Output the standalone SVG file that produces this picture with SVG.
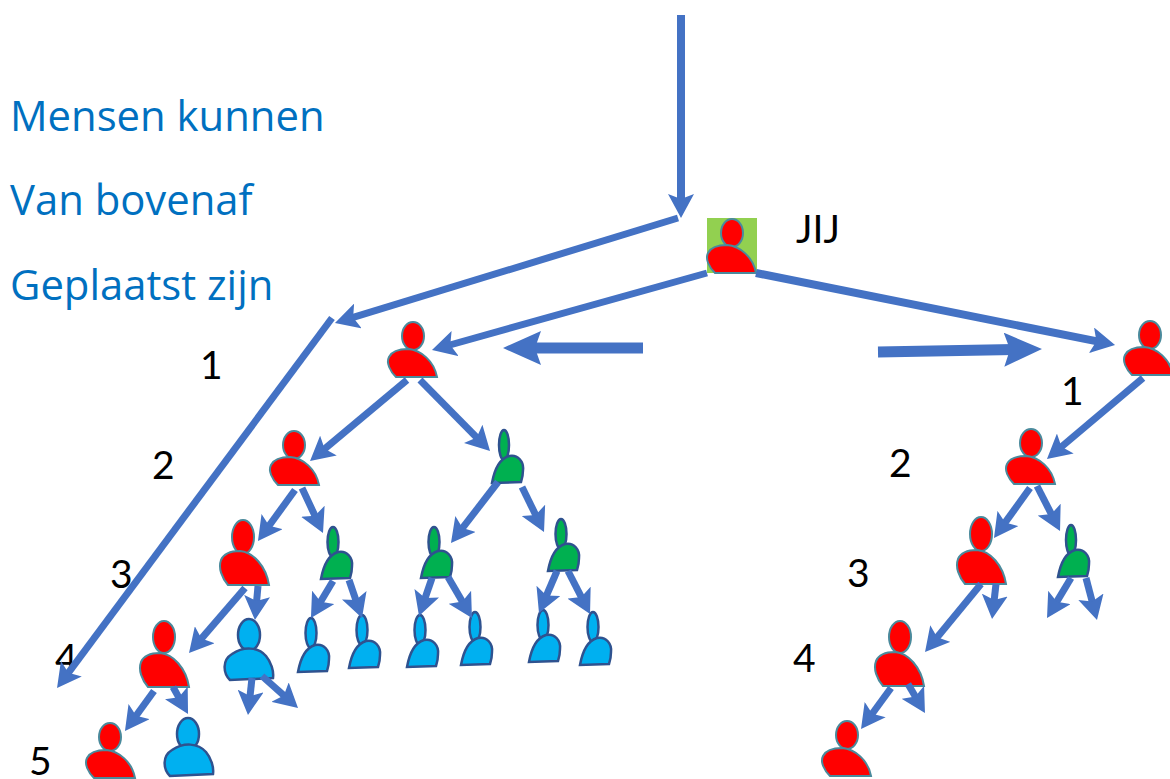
<svg xmlns="http://www.w3.org/2000/svg" xmlns:xlink="http://www.w3.org/1999/xlink" width="1170" height="779" viewBox="0 0 1170 779">
<style>
.r{fill:#f00;stroke:#4a8a9c;stroke-width:2}
.g{fill:#00b050;stroke:#2f528f;stroke-width:2.5}
.b{fill:#00b0f0;stroke:#2f528f;stroke-width:2.5}
.c line{stroke:#4472c4;stroke-width:7;fill:none}
.t{font-family:"Open Sans","Noto Sans",sans-serif;font-size:41.8px;fill:#0070c0}
.n{font-family:Lato,"Open Sans",sans-serif;font-size:39px;fill:#000}
</style>
<defs>
<path id="wide" d="M8,28C2,22-2,14 1,8C4,2 12,0 20,0C33,1 46,12 49,28Z"/>
<path id="tall" d="M8,34C2,27-2,17 1,9C4,2 12,0 20,0C33,1 46,15 49,34Z"/>
<path id="round" d="M6,32C-1,25-2,12 8,6C20,-2 34,-1 42,8C47,14 50,23 49,30Z"/>
<path id="nar" d="M0,28C2,17 7,4 17,1C26,-1 32,7 31,15C31,20 30,24 29,27Z"/>
<marker id="m" markerUnits="userSpaceOnUse" viewBox="0 -13 24 26" refX="11" refY="0" markerWidth="24" markerHeight="26" orient="auto"><path d="M0,-13L24,0L0,13L5,0Z" fill="#4472c4"/></marker>
<marker id="k" markerUnits="userSpaceOnUse" viewBox="0 -17 38 34" refX="10" refY="0" markerWidth="38" markerHeight="34" orient="auto"><path d="M0,-17L38,0L0,17L6,0Z" fill="#4472c4"/></marker>
</defs>

<text class="t" x="10" y="131">Mensen kunnen</text>
<text class="t" x="10" y="215">Van bovenaf</text>
<text class="t" x="10" y="300">Geplaatst zijn</text>
<text class="n" x="796" y="243">JIJ</text>
<text class="n" x="200" y="379">1</text>
<text class="n" x="152" y="479">2</text>
<text class="n" x="110" y="588">3</text>
<text class="n" x="55" y="672">4</text>
<text class="n" x="29" y="775">5</text>
<text class="n" x="1061" y="405">1</text>
<text class="n" x="889" y="477">2</text>
<text class="n" x="847" y="587">3</text>
<text class="n" x="793" y="672">4</text>

<g id="jij"><rect x="707" y="218" width="50" height="55" fill="#92d050"/><g class="r"><ellipse cx="732" cy="233" rx="11" ry="14"/><use href="#wide" transform="translate(707,245)"/></g></g>
<g id="p1" class="r"><ellipse cx="413" cy="336" rx="11" ry="14"/><use href="#wide" transform="translate(388,349)"/></g>
<g id="p2" class="r"><ellipse cx="294" cy="445" rx="11" ry="14"/><use href="#wide" transform="translate(270,457)"/></g>
<g id="p3" class="r"><ellipse cx="243" cy="537" rx="11" ry="17"/><use href="#tall" transform="translate(220,551)"/></g>
<g id="p4" class="r"><ellipse cx="164" cy="637" rx="11" ry="16"/><use href="#tall" transform="translate(140,653)"/></g>
<g id="p5" class="r"><ellipse cx="110" cy="737" rx="11" ry="14"/><use href="#wide" transform="translate(86,750)"/></g>
<g id="q0" class="r"><ellipse cx="1150" cy="335" rx="11" ry="14"/><use href="#wide" transform="translate(1124,347)"/></g>
<g id="q1" class="r"><ellipse cx="1031" cy="443" rx="11" ry="14"/><use href="#wide" transform="translate(1006,456)"/></g>
<g id="q2" class="r"><ellipse cx="981" cy="534" rx="11" ry="17"/><use href="#tall" transform="translate(957,550)"/></g>
<g id="q3" class="r"><ellipse cx="900" cy="637" rx="11" ry="16"/><use href="#tall" transform="translate(875,652)"/></g>
<g id="q4" class="r"><ellipse cx="847" cy="735" rx="11" ry="14"/><use href="#wide" transform="translate(822,748)"/></g>

<g id="u1" class="b"><ellipse cx="249" cy="635" rx="11" ry="16"/><use href="#round" transform="translate(224,648)"/></g>
<g id="u2" class="b"><ellipse cx="188" cy="734" rx="11" ry="16"/><use href="#round" transform="translate(164,744)"/></g>

<g id="g1" class="g"><ellipse cx="504" cy="445" rx="5" ry="15"/><use href="#nar" transform="translate(492,455)"/></g>
<g id="g2" class="g"><ellipse cx="333" cy="542" rx="5.5" ry="15"/><use href="#nar" transform="translate(321,551)"/></g>
<g id="g3" class="g"><ellipse cx="434" cy="542" rx="5.5" ry="15"/><use href="#nar" transform="translate(421,550)"/></g>
<g id="g4" class="g"><ellipse cx="561" cy="534" rx="5.5" ry="15"/><use href="#nar" transform="translate(548,543)"/></g>
<g id="g5" class="g"><ellipse cx="1071" cy="540" rx="5" ry="15"/><use href="#nar" transform="translate(1058,549)"/></g>

<g id="b1" class="b"><ellipse cx="311" cy="633" rx="5.5" ry="15"/><use href="#nar" transform="translate(298,644)"/></g>
<g id="b2" class="b"><ellipse cx="362" cy="630" rx="5.5" ry="15"/><use href="#nar" transform="translate(349,640)"/></g>
<g id="b3" class="b"><ellipse cx="420" cy="630" rx="5.5" ry="15"/><use href="#nar" transform="translate(407,639)"/></g>
<g id="b4" class="b"><ellipse cx="475" cy="627" rx="5.5" ry="15"/><use href="#nar" transform="translate(461,637)"/></g>
<g id="b5" class="b"><ellipse cx="543" cy="625" rx="5.5" ry="15"/><use href="#nar" transform="translate(529,634)"/></g>
<g id="b6" class="b"><ellipse cx="593" cy="627" rx="5.5" ry="15"/><use href="#nar" transform="translate(580,637)"/></g>

<g id="connectors" class="c">
<line x1="681" y1="15" x2="681" y2="205" marker-end="url(#m)" style="stroke-width:8"/>
<line x1="678" y1="218" x2="347.4" y2="319.2" marker-end="url(#m)"/>
<line x1="332" y1="318" x2="64.8" y2="677.6" marker-end="url(#m)"/>
<line x1="707" y1="273" x2="444.5" y2="346.5" marker-end="url(#m)"/>
<line x1="756" y1="273" x2="1102.3" y2="342.4" marker-end="url(#m)" style="stroke-width:8"/>
<line x1="643" y1="348" x2="531" y2="348" marker-end="url(#k)" style="stroke-width:11"/>
<line x1="878" y1="352" x2="1014" y2="349.5" marker-end="url(#k)" style="stroke-width:11"/>
<line x1="1143" y1="378" x2="1056.9" y2="450.6" marker-end="url(#m)"/>
<line x1="407" y1="380" x2="320" y2="452.7" marker-end="url(#m)"/>
<line x1="420" y1="380" x2="480.9" y2="441.7" marker-end="url(#m)"/>
<line x1="295" y1="490" x2="265.6" y2="530.5" marker-end="url(#m)"/>
<line x1="302" y1="488" x2="317.5" y2="521.2" marker-end="url(#m)"/>
<line x1="498" y1="482" x2="458.9" y2="532.7" marker-end="url(#m)"/>
<line x1="522" y1="487" x2="538.3" y2="520.3" marker-end="url(#m)"/>
<line x1="333" y1="581" x2="317.6" y2="606.8" marker-end="url(#m)"/>
<line x1="349" y1="580" x2="357.8" y2="605.7" marker-end="url(#m)"/>
<line x1="432" y1="578" x2="423.2" y2="603.7" marker-end="url(#m)"/>
<line x1="448" y1="577" x2="465.4" y2="606.8" marker-end="url(#m)"/>
<line x1="557" y1="571" x2="544.1" y2="601" marker-end="url(#m)"/>
<line x1="568" y1="571" x2="584.1" y2="602.4" marker-end="url(#m)"/>
<line x1="245" y1="588" x2="197.5" y2="643.1" marker-end="url(#m)"/>
<line x1="258" y1="586" x2="256.1" y2="607" marker-end="url(#m)"/>
<line x1="154" y1="691" x2="132.6" y2="720.5" marker-end="url(#m)"/>
<line x1="173" y1="687" x2="181.7" y2="702.6" marker-end="url(#m)"/>
<line x1="252" y1="678" x2="249.4" y2="702" marker-end="url(#m)"/>
<line x1="262" y1="676" x2="288.3" y2="699.4" marker-end="url(#m)"/>
<line x1="1030" y1="488" x2="1001.6" y2="527.4" marker-end="url(#m)"/>
<line x1="1037" y1="486" x2="1054.1" y2="519.4" marker-end="url(#m)"/>
<line x1="981" y1="584" x2="933.3" y2="642" marker-end="url(#m)"/>
<line x1="996" y1="584" x2="993.5" y2="606" marker-end="url(#m)"/>
<line x1="1071" y1="578" x2="1053.7" y2="606.9" marker-end="url(#m)"/>
<line x1="1086" y1="578" x2="1093.7" y2="607.4" marker-end="url(#m)"/>
<line x1="891" y1="688" x2="868.7" y2="718.5" marker-end="url(#m)"/>
<line x1="908" y1="684" x2="918.4" y2="701.8" marker-end="url(#m)"/>
</g>
</svg>
